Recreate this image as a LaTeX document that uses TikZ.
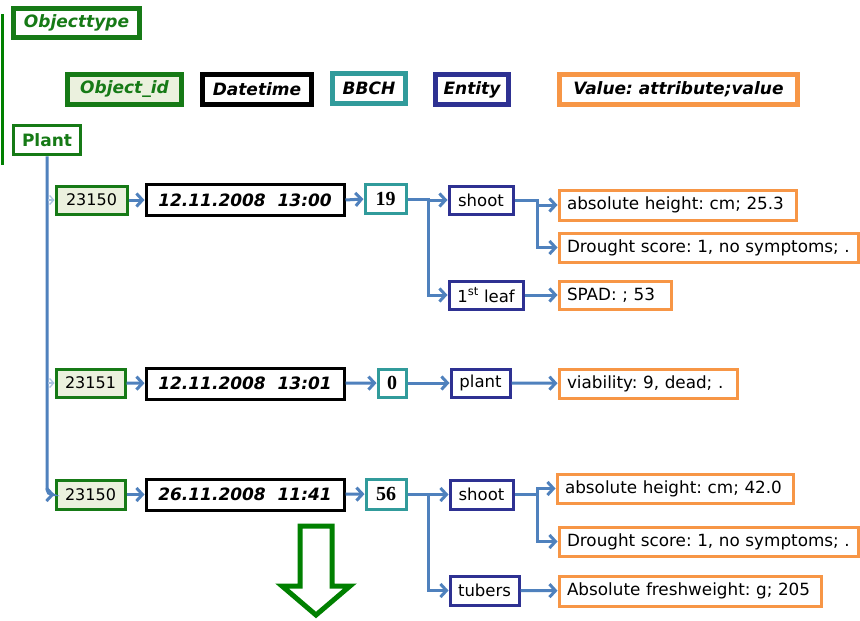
\documentclass[tikz,border=0pt]{standalone}
\usepackage{fontspec}
\setmainfont{DejaVu Sans}
\newfontfamily\numfont{Liberation Serif}
\usetikzlibrary{arrows.meta}
\frenchspacing
\definecolor{dgreen}{RGB}{22,122,22}
\definecolor{bgreen}{RGB}{0,128,0}
\definecolor{lgreen}{RGB}{235,241,222}
\definecolor{teal2}{RGB}{49,155,155}
\definecolor{navy2}{RGB}{46,49,146}
\definecolor{orange2}{RGB}{247,150,70}
\definecolor{cblue}{RGB}{79,129,189}
\definecolor{clight}{RGB}{170,195,225}
\begin{document}
\begin{tikzpicture}[x=1pt,y=-1pt,
  legbox/.style={draw, line width=5pt, fill=white, inner sep=0pt, font=\fontsize{17}{20}\selectfont\bfseries\itshape},
  databox/.style={draw, line width=3pt, fill=white, inner sep=0pt},
  idbox/.style={databox, draw=dgreen, fill=lgreen, font=\fontsize{16}{19}\selectfont},
  dtbox/.style={databox, draw=black, font=\fontsize{17}{20}\selectfont\bfseries\itshape},
  bbbox/.style={databox, draw=teal2, font=\fontsize{20}{22}\selectfont\numfont\bfseries},
  entbox/.style={databox, draw=navy2, font=\fontsize{16.5}{19}\selectfont},
  valbox/.style={databox, draw=orange2, font=\fontsize{16.8}{19}\selectfont, align=left},
  conn/.style={draw=cblue, line width=3pt, -{Straight Barb[length=6pt,width=13pt,line width=3pt]}},
  faint/.style={draw=clight, line width=1.3pt, -{Straight Barb[length=4pt,width=9pt,line width=1.3pt]}}
]
\useasboundingbox (0,0) rectangle (860,621);
\fill[white] (0,0) rectangle (860,621);

% left green bar
\draw[bgreen, line width=3pt] (2,14) -- (2,165);

% legend
\node[legbox, draw=dgreen, text=dgreen, minimum width=126pt, minimum height=29pt] (ot) at (76.5,23) {Objecttype};
\node[legbox, draw=dgreen, fill=lgreen, text=dgreen, minimum width=114pt, minimum height=30pt] (legid) at (124.5,89.5) {Object\_id};
\node[legbox, draw=black, minimum width=109pt, minimum height=30pt] (legdt) at (257,89.5) {Datetime};
\node[legbox, draw=teal2, minimum width=73pt, minimum height=30pt] (legbb) at (369,88.5) {BBCH};
\node[legbox, draw=navy2, minimum width=73pt, minimum height=30pt] (legent) at (472,89.5) {Entity};
\node[legbox, draw=orange2, minimum width=238pt, minimum height=30pt] (legval) at (678.5,89.5) {Value: attribute;value};

% plant
\node[draw=dgreen, line width=3.5pt, fill=white, inner sep=0pt, text=dgreen, font=\fontsize{17}{20}\selectfont\bfseries, minimum width=67pt, minimum height=29pt] (plant) at (47,140) {Plant};

% row 1
\node[idbox, minimum width=71pt, minimum height=28pt] (id1) at (91.5,200) {23150};
\node[dtbox, minimum width=198pt, minimum height=31pt] (dt1) at (245,200) {12.11.2008~~13:00};
\node[bbbox, minimum width=41pt, minimum height=29pt] (b1) at (385.5,199) {19};
\node[entbox, minimum width=64pt, minimum height=28pt] (sh1) at (481,200) {shoot};
\node[entbox, minimum width=74pt, minimum height=28pt] (lf1) at (486,295) {1\textsuperscript{st} leaf};
\node[valbox, minimum width=237pt, text width=221pt, minimum height=30pt] (v1a) at (677.5,205) {absolute height: cm; 25.3};
\node[valbox, minimum width=299pt, text width=283pt, minimum height=29pt] (v1b) at (708.5,247.5) {Drought score: 1, no symptoms; .};
\node[valbox, minimum width=112pt, text width=96pt, minimum height=28pt] (v1c) at (615,295) {SPAD: ; 53};

% row 2
\node[idbox, minimum width=69pt, minimum height=28pt] (id2) at (90.5,383) {23151};
\node[dtbox, minimum width=198pt, minimum height=31pt] (dt2) at (245,383.5) {12.11.2008~~13:01};
\node[bbbox, minimum width=28pt, minimum height=28pt] (b2) at (392,383) {0};
\node[entbox, minimum width=59pt, minimum height=28pt] (pl2) at (480.5,383) {plant};
\node[valbox, minimum width=178pt, text width=162pt, minimum height=29pt] (v2) at (648,383.5) {viability: 9, dead; .};

% row 3
\node[idbox, minimum width=69pt, minimum height=29pt] (id3) at (90.5,494.5) {23150};
\node[dtbox, minimum width=198pt, minimum height=31pt] (dt3) at (245,494.5) {26.11.2008~~11:41};
\node[bbbox, minimum width=40pt, minimum height=30pt] (b3) at (386,494) {56};
\node[entbox, minimum width=63pt, minimum height=29pt] (sh3) at (481.5,494.5) {shoot};
\node[entbox, minimum width=69pt, minimum height=29pt] (tb3) at (484.5,590.5) {tubers};
\node[valbox, minimum width=236pt, text width=220pt, minimum height=29pt] (v3a) at (675,488.5) {absolute height: cm; 42.0};
\node[valbox, minimum width=299pt, text width=283pt, minimum height=29pt] (v3b) at (708.5,541.5) {Drought score: 1, no symptoms; .};
\node[valbox, minimum width=262pt, text width=246pt, minimum height=30pt] (v3c) at (690,591) {Absolute freshweight: g; 205};

% junction coordinates
\coordinate (j1) at (48,200);
\coordinate (j2) at (48,383);
\coordinate (s1) at (428,199);
\coordinate (t1) at (537,200);
\coordinate (s3) at (428,494);
\coordinate (t3) at (537,494.5);

% trunk from Plant
\draw[conn, rounded corners=5pt] (plant.south) |- (id3.west);
\draw[faint] (j1) -- (id1.west);
\draw[faint] (j2) -- (id2.west);

% row 1 connectors
\draw[conn] (id1) -- (dt1);
\draw[conn] (dt1.east) -- (b1.west);
\draw[conn] (b1.east) -- (s1) |- (sh1.west);
\draw[conn] (s1) |- (lf1.west);
\draw[conn] (sh1.east) -- (t1) |- (v1a.west);
\draw[conn] (t1) |- (v1b.west);
\draw[conn] (lf1) -- (v1c);

% row 2 connectors
\draw[conn] (id2) -- (dt2);
\draw[conn] (dt2) -- (b2);
\draw[conn] (b2) -- (pl2);
\draw[conn] (pl2) -- (v2);

% row 3 connectors
\draw[conn] (id3) -- (dt3);
\draw[conn] (dt3) -- (b3);
\draw[conn] (b3.east) -- (s3) |- (sh3.west);
\draw[conn] (s3) |- (tb3.west);
\draw[conn] (sh3.east) -- (t3) |- (v3a.west);
\draw[conn] (t3) |- (v3b.west);
\draw[conn] (tb3) -- (v3c);

% big hollow down arrow
\draw[bgreen, line width=5pt, fill=white, line join=miter]
  (300,526) -- (332,526) -- (332,586) -- (350,586) -- (316,615) -- (282,586) -- (300,586) -- cycle;
\end{tikzpicture}
\end{document}
